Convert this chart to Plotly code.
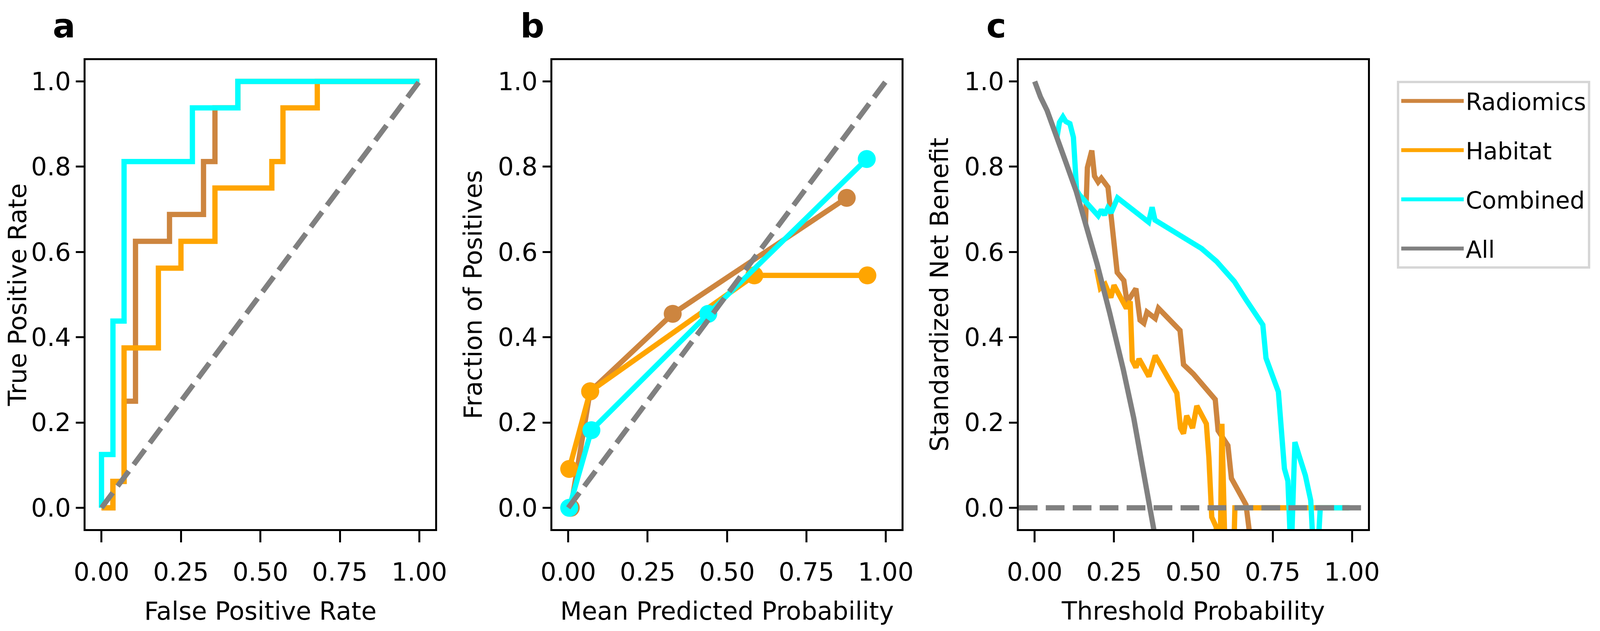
import plotly.graph_objects as go

# The photographed page is about 4096 x 1616 CSS px, while the reference is 5831 x 1616.
# Positions are read in reference px and mapped with SX / SY; the page body has an 8px margin.
PW, PH = 4096, 1616
SX, SY = PW / 5831, PH / 1616
OFF = 8
W, H = PW - 26, PH - 22


def fx(p):
    return (p * SX - OFF) / W


def fy(p):
    return 1 - (p * SY - OFF) / H


# ---- colours (matplotlib named colours) ----
C_RAD = "#cd853f"   # peru
C_HAB = "#ffa500"   # orange
C_COM = "#00ffff"   # cyan
C_GRAY = "#808080"
FONT = "DejaVu Sans"

# ---- panel a: ROC curves ----
rad_fpr = [0, 0.036, 0.036, 0.071, 0.071, 0.107, 0.107, 0.214, 0.214, 0.321, 0.321, 0.357, 0.357, 0.429, 0.429, 1.0]
rad_tpr = [0, 0, 0.062, 0.062, 0.25, 0.25, 0.625, 0.625, 0.688, 0.688, 0.812, 0.812, 0.938, 0.938, 1.0, 1.0]
hab_fpr = [0, 0.036, 0.036, 0.071, 0.071, 0.179, 0.179, 0.25, 0.25, 0.357, 0.357, 0.536, 0.536, 0.571, 0.571, 0.679, 0.679, 1.0]
hab_tpr = [0, 0, 0.062, 0.062, 0.375, 0.375, 0.562, 0.562, 0.625, 0.625, 0.75, 0.75, 0.812, 0.812, 0.938, 0.938, 1.0, 1.0]
com_fpr = [0, 0, 0.036, 0.036, 0.071, 0.071, 0.286, 0.286, 0.429, 0.429, 1.0]
com_tpr = [0, 0.125, 0.125, 0.438, 0.438, 0.812, 0.812, 0.938, 0.938, 1.0, 1.0]
diag = [0, 1]

# ---- panel b: calibration ----
rad_mean = [0.008, 0.069, 0.329, 0.877]
rad_frac = [0.0, 0.273, 0.455, 0.727]
hab_mean = [0.003, 0.069, 0.586, 0.942]
hab_frac = [0.091, 0.273, 0.545, 0.545]
com_mean = [0.003, 0.073, 0.441, 0.940]
com_frac = [0.0, 0.182, 0.455, 0.818]

# ---- panel c: decision curves (standardized net benefit) ----
rad_thr = [0.160, 0.166, 0.180, 0.1885, 0.200, 0.210, 0.231, 0.238, 0.251, 0.260, 0.281, 0.291,
           0.319, 0.332, 0.344, 0.354, 0.380, 0.390, 0.458, 0.469, 0.500, 0.535, 0.569, 0.578,
           0.609, 0.620, 0.641, 0.666, 0.684]
rad_nb = [0.665, 0.798, 0.838, 0.778, 0.764, 0.773, 0.752, 0.699, 0.629, 0.552, 0.533, 0.482,
          0.514, 0.440, 0.433, 0.459, 0.444, 0.468, 0.416, 0.336, 0.314, 0.285, 0.254, 0.181,
          0.146, 0.069, 0.040, 0.007, -0.1]
hab_thr = [0.195, 0.207, 0.222, 0.240, 0.250, 0.289, 0.301, 0.3075, 0.319, 0.329, 0.360, 0.380,
           0.448, 0.4595, 0.469, 0.479, 0.4975, 0.511, 0.541, 0.549, 0.558, 0.572, 0.583, 0.590,
           0.603, 0.624, 0.631, 0.99]
hab_nb = [0.56, 0.515, 0.524, 0.493, 0.522, 0.468, 0.484, 0.346, 0.329, 0.349, 0.308, 0.357,
          0.269, 0.187, 0.174, 0.216, 0.187, 0.239, 0.197, 0.118, -0.022, -0.045, -0.2, 0.197,
          -0.2, -0.2, 0.0, 0.0]
com_thr = [0.070, 0.078, 0.089, 0.098, 0.111, 0.122, 0.132, 0.141, 0.200, 0.210, 0.220, 0.230,
           0.241, 0.261, 0.359, 0.370, 0.379, 0.441, 0.500, 0.526, 0.573, 0.629, 0.666, 0.692,
           0.719, 0.729, 0.747, 0.768, 0.787, 0.798, 0.808, 0.820, 0.835, 0.853, 0.870, 0.885,
           0.900, 0.994]
com_nb = [0.868, 0.904, 0.917, 0.906, 0.901, 0.869, 0.745, 0.734, 0.685, 0.699, 0.687, 0.703,
          0.692, 0.727, 0.670, 0.705, 0.675, 0.648, 0.620, 0.608, 0.578, 0.531, 0.488, 0.459,
          0.429, 0.351, 0.318, 0.272, 0.092, 0.063, -0.12, 0.154, 0.118, 0.076, 0.017, -0.2,
          0.0, 0.0]
all_thr = [0.0, 0.018, 0.039, 0.075, 0.096, 0.131, 0.167, 0.197, 0.236, 0.250, 0.279, 0.312,
           0.346, 0.364, 0.380]
all_nb = [1.0, 0.964, 0.932, 0.862, 0.815, 0.742, 0.652, 0.571, 0.458, 0.415, 0.325, 0.211,
          0.080, 0.0, -0.07]

LW = 13.5
MS = 46
DASH = "48px,21px"
FS = 64

fig = go.Figure()

# panel a
for name, xs, ys, col in [("Radiomics", rad_fpr, rad_tpr, C_RAD),
                          ("Habitat", hab_fpr, hab_tpr, C_HAB),
                          ("Combined", com_fpr, com_tpr, C_COM)]:
    fig.add_trace(go.Scatter(x=xs, y=ys, mode="lines", name=name, legendgroup=name,
                             line=dict(color=col, width=LW), xaxis="x", yaxis="y"))
fig.add_trace(go.Scatter(x=diag, y=diag, mode="lines", showlegend=False,
                         line=dict(color=C_GRAY, width=LW, dash=DASH), xaxis="x", yaxis="y"))

# panel b
for name, xs, ys, col in [("Radiomics", rad_mean, rad_frac, C_RAD),
                          ("Habitat", hab_mean, hab_frac, C_HAB),
                          ("Combined", com_mean, com_frac, C_COM)]:
    fig.add_trace(go.Scatter(x=xs, y=ys, mode="lines+markers", name=name, legendgroup=name,
                             showlegend=False, line=dict(color=col, width=LW),
                             marker=dict(color=col, size=MS), xaxis="x2", yaxis="y2"))
fig.add_trace(go.Scatter(x=diag, y=diag, mode="lines", showlegend=False,
                         line=dict(color=C_GRAY, width=LW, dash=DASH), xaxis="x2", yaxis="y2"))

# panel c
for name, xs, ys, col in [("Radiomics", rad_thr, rad_nb, C_RAD),
                          ("Habitat", hab_thr, hab_nb, C_HAB),
                          ("Combined", com_thr, com_nb, C_COM)]:
    fig.add_trace(go.Scatter(x=xs, y=ys, mode="lines", name=name, legendgroup=name,
                             showlegend=False, line=dict(color=col, width=LW), xaxis="x3", yaxis="y3"))
fig.add_trace(go.Scatter(x=all_thr, y=all_nb, mode="lines", name="All", legendgroup="All",
                         line=dict(color=C_GRAY, width=LW), xaxis="x3", yaxis="y3"))

# treat-none reference line
fig.add_shape(type="line", xref="x3 domain", yref="y3", x0=0, x1=1, y0=0, y1=0,
              line=dict(color=C_GRAY, width=LW, dash=DASH), layer="above")

axis_common = dict(range=[-0.05, 1.05], showline=True, linecolor="black", linewidth=5,
                   mirror=True, ticks="outside", tickwidth=5, tickcolor="black",
                   showgrid=False, zeroline=False, automargin=False,
                   tickfont=dict(family=FONT, size=FS, color="black"))
xt = dict(tickvals=[0, 0.25, 0.5, 0.75, 1.0], ticktext=["0.00", "0.25", "0.50", "0.75", "1.00"],
          ticklen=29, ticklabelstandoff=21)
yt = dict(tickvals=[0, 0.2, 0.4, 0.6, 0.8, 1.0], ticktext=["0.0", "0.2", "0.4", "0.6", "0.8", "1.0"],
          ticklen=20, ticklabelstandoff=0)
title_font = dict(family=FONT, size=FS, color="black")

ydom = [fy(1355), fy(154)]
xdoms = [[fx(312), fx(1586)], [fx(2013), fx(3286)], [fx(3713), fx(4985)]]
xtitles = ["False Positive Rate", "Mean Predicted Probability", "Threshold Probability"]
ytitles = ["True Positive Rate", "Fraction of Positives", "Standardized Net Benefit"]

layout = dict(width=W, height=H, margin=dict(l=0, r=0, t=0, b=0),
              paper_bgcolor="white", plot_bgcolor="white",
              font=dict(family=FONT, size=FS, color="black"))
for i in range(3):
    sx = "" if i == 0 else str(i + 1)
    layout["xaxis" + sx] = dict(domain=xdoms[i], anchor="y" + sx,
                                title=dict(text=xtitles[i], font=title_font, standoff=47),
                                **xt, **axis_common)
    layout["yaxis" + sx] = dict(domain=ydom, anchor="x" + sx,
                                title=dict(text=ytitles[i], font=title_font, standoff=22),
                                **yt, **axis_common)
fig.update_layout(**layout)

fig.update_layout(legend=dict(x=fx(5091), y=fy(207), xanchor="left", yanchor="top",
                              bgcolor="white", bordercolor="#d6d6d6", borderwidth=6,
                              font=dict(family=FONT, size=60, color="black"),
                              itemwidth=160, tracegroupgap=45, traceorder="grouped"))

# panel letters
for lab, sx, xp in [("a", "", 189), ("b", "2", 1893), ("c", "3", 3591)]:
    fig.add_annotation(text="<b>%s</b>" % lab, xref="paper", yref="paper",
                       x=fx(xp), y=fy(118), xanchor="left", yanchor="bottom", showarrow=False,
                       font=dict(family=FONT, size=86, color="black"))

fig.write_html("out.html")
